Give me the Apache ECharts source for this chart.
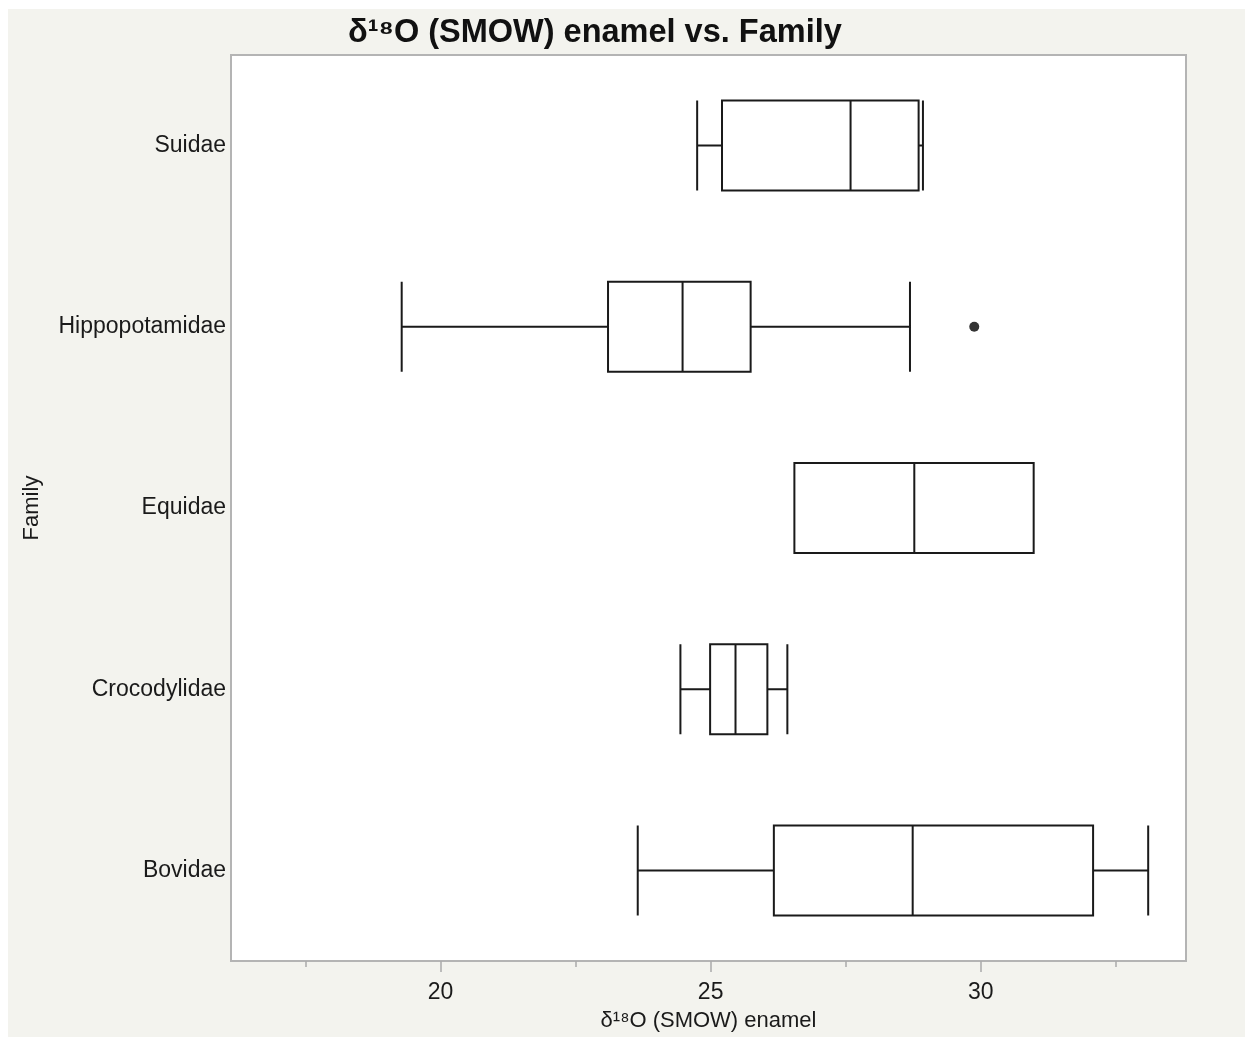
<!DOCTYPE html>
<html>
<head>
<meta charset="utf-8">
<script src="https://cdn.jsdelivr.net/npm/echarts@6/dist/echarts.min.js"></script>
<style>
  html, body { margin: 0; padding: 0; background: #ffffff; }
  #chart { position: absolute; left: 8px; top: 9px; width: 1237px; height: 1028px; }
</style>
</head>
<body>
<div id="chart"></div>
<script>
// ---- Data ----
const categories = ['Bovidae', 'Crocodylidae', 'Equidae', 'Hippopotamidae', 'Suidae'];
const minVals    = [23.65, 24.44, 26.55, 19.28, 24.75];
const q1Vals     = [26.17, 24.99, 26.55, 23.10, 25.21];
const medianVals = [28.74, 25.46, 28.77, 24.48, 27.59];
const q3Vals     = [32.08, 26.05, 30.98, 25.74, 28.85];
const maxVals    = [33.10, 26.42, 30.98, 28.69, 28.93];
const outlierValues     = [29.88];
const outlierCategories = ['Hippopotamidae'];
const majorTicks = [20, 25, 30];
const minorTicks = [17.5, 22.5, 27.5, 32.5];
const xMin = 16.12, xMax = 33.80;

const titleText = 'δ¹⁸O (SMOW) enamel vs. Family';
const xName = 'δ¹⁸O (SMOW) enamel';
const yName = 'Family';

const boxData = categories.map((c, i) => [minVals[i], q1Vals[i], medianVals[i], q3Vals[i], maxVals[i]]);
const outlierData = outlierValues.map((v, i) => [v, categories.indexOf(outlierCategories[i])]);

const FONT = '"Liberation Sans", Arial, Helvetica, sans-serif';
const chart = echarts.init(document.getElementById('chart'));
chart.setOption({
  backgroundColor: '#f3f3ee',
  animation: false,
  title: {
    text: titleText,
    left: 335, top: 3,
    textStyle: { fontFamily: FONT, fontSize: 32.5, fontWeight: 'bold', color: '#111' }
  },
  grid: {
    left: 223, top: 46, right: 59, bottom: 76,
    outerBoundsMode: 'none', containLabel: false,
    show: true, backgroundColor: '#ffffff', borderColor: '#b4b4b4', borderWidth: 2
  },
  xAxis: [
    {
      type: 'value', min: xMin, max: xMax, position: 'bottom',
      name: xName, nameLocation: 'middle', nameGap: 49,
      nameTextStyle: { fontFamily: FONT, fontSize: 22, color: '#1a1a1a' },
      axisLine: { show: false },
      splitLine: { show: false },
      axisTick: { show: true, customValues: majorTicks, length: 11, lineStyle: { color: '#aaa', width: 1.5 } },
      axisLabel: { customValues: majorTicks, fontFamily: FONT, fontSize: 23, color: '#1a1a1a', margin: 20 }
    },
    {
      type: 'value', min: xMin, max: xMax, position: 'bottom',
      axisLine: { show: false },
      splitLine: { show: false },
      axisTick: { show: true, customValues: minorTicks, length: 6, lineStyle: { color: '#aaa', width: 1.5 } },
      axisLabel: { show: false }
    }
  ],
  yAxis: {
    type: 'category', data: categories,
    name: yName, nameLocation: 'middle', nameGap: 188, nameRotate: 90,
    nameTextStyle: { fontFamily: FONT, fontSize: 22, color: '#1a1a1a' },
    axisLine: { show: false }, axisTick: { show: false },
    axisLabel: { fontFamily: FONT, fontSize: 23, color: '#1a1a1a', margin: 5 }
  },
  series: [
    {
      type: 'boxplot', xAxisIndex: 0, layout: 'horizontal',
      data: boxData,
      boxWidth: [90, 90],
      itemStyle: { color: '#ffffff', borderColor: '#1a1a1a', borderWidth: 2 },
      emphasis: { disabled: true }
    },
    {
      type: 'scatter', xAxisIndex: 0,
      data: outlierData,
      symbol: 'circle', symbolSize: 10,
      itemStyle: { color: '#000' }
    }
  ]
});
</script>
</body>
</html>
